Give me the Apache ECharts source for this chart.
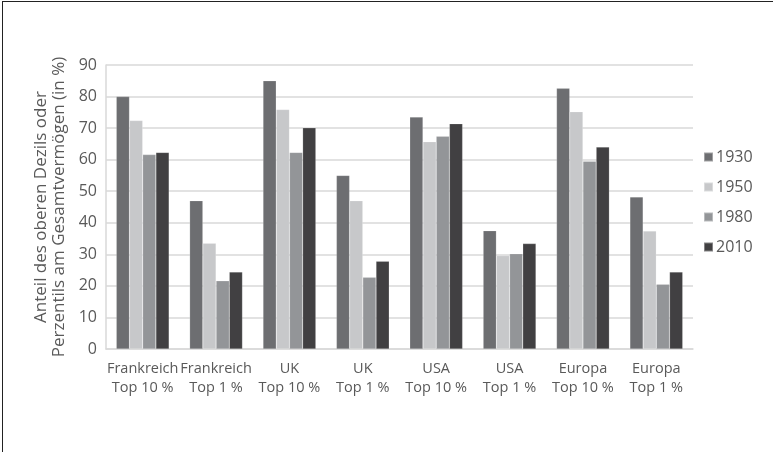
<!DOCTYPE html>
<html>
<head>
<meta charset="utf-8">
<script src="https://cdn.jsdelivr.net/npm/echarts@6/dist/echarts.min.js"></script>
<style>
  html, body { margin: 0; padding: 0; background: #fff; }
  .frame {
    position: absolute; left: 2px; top: 1px;
    width: 771px; height: 451px;
    border-left: 1px solid #222; border-top: 1px solid #222;
    box-sizing: border-box;
  }
  #chart { position: absolute; left: 0; top: 0; width: 773px; height: 452px; }
</style>
</head>
<body>
<div class="frame"></div>
<div id="chart"></div>
<script>
const categories = [
  'Frankreich\nTop 10 %', 'Frankreich\nTop 1 %', 'UK\nTop 10 %', 'UK\nTop 1 %',
  'USA\nTop 10 %', 'USA\nTop 1 %', 'Europa\nTop 10 %', 'Europa\nTop 1 %'
];
const years = ['1930', '1950', '1980', '2010'];
const v1930 = [80, 47, 85, 55, 73.5, 37.5, 82.6, 48.2];
const v1950 = [72.4, 33.5, 75.9, 47, 65.7, 29.6, 75.2, 37.4];
const v1980 = [61.6, 21.6, 62.3, 22.7, 67.4, 30.2, 59.5, 20.5];
const v2010 = [62.3, 24.4, 70.1, 27.8, 71.4, 33.4, 64, 24.4];
const colors = ['#6d6e71', '#c7c8ca', '#939598', '#414042'];

const chart = echarts.init(document.getElementById('chart'));
const font = '"Open Sans", "Noto Sans", sans-serif';
const txt = '#595959';

chart.setOption({
  animation: false,
  color: colors,
  textStyle: { fontFamily: font },
  grid: { left: 106, right: 80, top: 65, bottom: 103 },
  legend: {
    orient: 'vertical',
    left: 698,
    top: 144,
    itemWidth: 9,
    itemHeight: 9,
    itemGap: 14,
    icon: 'rect',
    textStyle: { color: txt, fontSize: 16, lineHeight: 16, fontFamily: font, padding: [0, 0, 0, -2] },
    data: years
  },
  xAxis: {
    type: 'category',
    data: categories,
    axisTick: { show: false },
    axisLine: { lineStyle: { color: '#d9d9d9', width: 1.5 } },
    axisLabel: { color: txt, fontSize: 14.5, lineHeight: 19, margin: 10, interval: 0 }
  },
  yAxis: {
    type: 'value',
    min: 0,
    max: 90,
    interval: 10,
    name: 'Anteil des oberen Dezils oder\nPerzentils am Gesamtvermögen (in %)',
    nameLocation: 'middle',
    nameGap: 37,
    nameTextStyle: { color: txt, fontSize: 17, lineHeight: 18 },
    axisLine: { show: true, lineStyle: { color: '#d9d9d9', width: 1.5 } },
    axisTick: { show: false },
    axisLabel: { color: txt, fontSize: 16, margin: 9 },
    splitLine: { lineStyle: { color: '#d9d9d9', width: 1.5 } }
  },
  series: [v1930, v1950, v1980, v2010].map((d, i) => ({
    name: years[i],
    type: 'bar',
    data: d,
    barGap: '0%',
    barCategoryGap: '28%',
    itemStyle: { borderColor: 'rgba(255,255,255,0.35)', borderWidth: 0.5 }
  }))
});
window.addEventListener('resize', function () { chart.resize(); });
</script>
</body>
</html>
